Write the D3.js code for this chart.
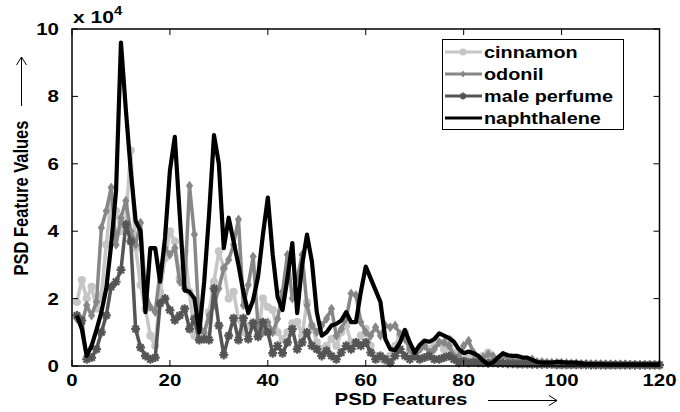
<!DOCTYPE html>
<html>
<head>
<meta charset="utf-8">
<script src="https://cdn.jsdelivr.net/npm/d3@7"></script>
<style>
  body { margin: 0; background: #fff; }
  text { font-family: Arial, "Liberation Sans", sans-serif; font-weight: bold; }
</style>
</head>
<body>
<script>
var W = 680, H = 412;
var margin = { top: 29, right: 20, bottom: 46, left: 72 };

// data, values in units of 1e4, sampled at features 1..120
var cinnamon = [1.9,2.55,2.0,2.35,1.7,2.1,3.6,4.9,4.6,4.0,4.3,6.4,3.5,2.4,1.7,0.9,0.6,2.2,3.2,4.0,
  3.7,2.6,3.4,2.2,0.9,0.8,0.9,1.6,2.5,3.4,2.9,2.0,2.2,1.4,1.0,1.2,1.3,0.9,2.0,1.75,
  1.66,1.0,0.8,1.0,1.27,1.3,0.9,1.9,1.2,0.7,0.5,0.6,0.8,0.6,1.0,1.2,0.7,0.6,0.9,1.1,
  0.6,0.3,0.2,0.15,0.3,0.6,0.9,1.0,0.5,0.3,0.5,0.7,0.5,0.6,0.7,0.5,0.8,0.4,0.2,0.1,
  0.3,0.2,0.15,0.3,0.4,0.2,0.1,0.15,0.1,0.1,0.1,0.12,0.1,0.1,0.08,0.1,0.08,0.08,0.07,0.07,
  0.06,0.06,0.06,0.05,0.05,0.05,0.05,0.05,0.04,0.04,0.04,0.04,0.04,0.04,0.04,0.03,0.03,0.03,0.03,0.03];
var odonil = [1.4,1.25,1.8,1.5,1.9,4.1,4.6,5.3,3.6,4.4,4.9,4.0,3.6,4.25,2.2,1.75,1.6,2.8,3.5,3.3,
  3.5,2.5,2.3,5.35,3.9,1.2,1.0,1.5,1.8,2.3,2.9,3.15,3.6,4.35,1.8,2.4,3.25,1.2,1.0,1.3,
  1.0,1.4,2.2,3.3,2.0,2.6,3.3,1.8,1.2,1.0,1.2,1.4,1.7,0.9,1.1,1.4,2.15,2.1,1.3,1.0,
  0.9,1.15,0.9,1.2,1.15,1.2,0.95,0.8,0.5,0.3,0.5,0.6,0.4,0.5,0.7,0.7,0.6,0.3,0.3,0.6,
  0.75,0.4,0.2,0.25,0.35,0.3,0.2,0.3,0.25,0.2,0.2,0.15,0.15,0.2,0.12,0.12,0.1,0.1,0.1,0.1,
  0.09,0.08,0.08,0.07,0.07,0.06,0.06,0.06,0.05,0.05,0.05,0.05,0.05,0.04,0.04,0.04,0.04,0.04,0.04,0.04];
var malePerfume = [1.5,1.35,0.2,0.25,0.5,1.0,1.5,2.35,2.5,2.85,4.2,3.7,1.1,0.55,0.3,0.2,0.25,1.86,2.0,1.66,
  1.36,1.5,1.7,1.1,1.4,0.77,0.8,0.77,2.3,1.2,0.33,0.9,1.42,0.77,1.42,0.8,1.27,0.87,1.3,1.0,
  0.38,0.6,0.38,0.7,1.1,0.5,0.7,1.0,0.6,0.5,0.3,0.45,0.3,0.2,0.4,0.6,0.5,0.7,0.6,0.7,
  0.4,0.2,0.3,0.2,0.1,0.3,0.5,0.3,0.2,0.3,0.2,0.25,0.3,0.2,0.2,0.25,0.3,0.2,0.1,0.15,
  0.1,0.12,0.1,0.1,0.08,0.1,0.08,0.08,0.07,0.07,0.06,0.06,0.06,0.05,0.05,0.05,0.05,0.05,0.04,0.04,
  0.04,0.04,0.04,0.04,0.04,0.03,0.03,0.03,0.03,0.03,0.03,0.03,0.03,0.03,0.03,0.03,0.03,0.03,0.03,0.03];
var naphthalene = [1.5,1.1,0.3,0.6,1.07,1.6,2.3,3.6,5.2,9.6,7.6,5.8,4.3,4.0,1.6,3.5,3.5,2.5,3.8,5.8,
  6.8,4.5,2.25,2.2,2.0,1.0,2.5,4.5,6.85,6.0,3.5,4.4,3.7,3.0,2.2,1.57,1.96,2.65,3.9,5.0,
  3.3,2.05,1.66,2.6,3.65,1.57,3.0,3.9,3.1,1.6,0.9,1.0,1.2,1.25,1.35,1.6,1.3,1.3,2.2,2.95,
  2.6,2.25,1.9,0.8,0.5,0.47,0.7,1.07,0.7,0.4,0.62,0.75,0.72,0.8,0.97,0.9,0.83,0.72,0.5,0.38,
  0.43,0.38,0.3,0.15,0.05,0.1,0.25,0.38,0.32,0.3,0.3,0.25,0.25,0.18,0.12,0.1,0.1,0.1,0.12,0.12,
  0.1,0.1,0.1,0.08,0.06,0.06,0.06,0.06,0.05,0.05,0.05,0.05,0.05,0.05,0.05,0.05,0.05,0.05,0.05,0.05];

var seriesNames = ["cinnamon", "odonil", "male perfume", "naphthalene"];
var seriesData = [cinnamon, odonil, malePerfume, naphthalene];
var seriesColors = ["#c6c6c6", "#878787", "#555555", "#000000"];
var seriesMarkers = ["circle", "diamond", "star", "none"];

var xTicks = [0, 20, 40, 60, 80, 100, 120];
var yTicks = [0, 2, 4, 6, 8, 10];

var svg = d3.select("body").append("svg")
  .attr("width", W)
  .attr("height", H);

var x = d3.scaleLinear().domain([0, 120]).range([margin.left, W - margin.right - 0.5]);
var y = d3.scaleLinear().domain([0, 10]).range([H - margin.bottom, margin.top]);

// the picture looks stretched sideways, so text gets a wider x scale
var SX = 1.24;
function wideText(sel, px, py, size, anchor, str) {
  return sel.append("text")
    .attr("transform", "translate(" + px + "," + py + ") scale(" + SX + ",1)")
    .attr("text-anchor", anchor || "start")
    .attr("font-size", size)
    .text(str);
}

var line = d3.line()
  .x(function(d, i) { return x(i + 1); })
  .y(function(d) { return y(d); });

var plot = svg.append("g");

seriesData.forEach(function(vals, k) {
  var col = seriesColors[k];
  plot.append("path")
    .datum(vals)
    .attr("fill", "none")
    .attr("stroke", col)
    .attr("stroke-width", k == 3 ? 4.2 : 3.5)
    .attr("stroke-linejoin", "round")
    .attr("d", line);

  var m = seriesMarkers[k];
  if (m == "none") return;
  var g = plot.append("g");
  var pts = g.selectAll("path.mk").data(vals).enter().append("path")
    .attr("class", "mk")
    .attr("transform", function(d, i) { return "translate(" + x(i + 1) + "," + y(d) + ")"; });
  if (m == "circle") {
    pts.attr("d", d3.symbol().type(d3.symbolCircle).size(52)()).attr("fill", col);
  } else if (m == "diamond") {
    pts.attr("d", "M0,-5L3.6,0L0,5L-3.6,0Z").attr("fill", col);
  } else {
    pts.attr("d", "M0,-4.5V4.5M-4.5,0H4.5M-3.2,-3.2L3.2,3.2M-3.2,3.2L3.2,-3.2")
      .attr("stroke", col).attr("stroke-width", 2.2).attr("fill", "none");
  }
});

// axes box, ticks inward like matlab
var x0 = x(0), x1 = x(120), y0 = y(0), y1 = y(10);
svg.append("rect")
  .attr("x", x0).attr("y", y1)
  .attr("width", x1 - x0).attr("height", y0 - y1)
  .attr("fill", "none").attr("stroke", "#000").attr("stroke-width", 1.5);

var tk = svg.append("g").attr("stroke", "#000").attr("stroke-width", 1);
xTicks.forEach(function(t) {
  tk.append("line").attr("x1", x(t)).attr("x2", x(t)).attr("y1", y0).attr("y2", y0 - 6);
  tk.append("line").attr("x1", x(t)).attr("x2", x(t)).attr("y1", y1).attr("y2", y1 + 6);
});
yTicks.forEach(function(t) {
  tk.append("line").attr("x1", x0).attr("x2", x0 + 6).attr("y1", y(t)).attr("y2", y(t));
  tk.append("line").attr("x1", x1).attr("x2", x1 - 6).attr("y1", y(t)).attr("y2", y(t));
});

var xl = svg.append("g");
xTicks.forEach(function(t) {
  wideText(xl, x(t), y0 + 20, 16.5, "middle", t);
});
var yl = svg.append("g");
yTicks.forEach(function(t) {
  wideText(yl, x0 - 13, y(t) + 6, 16.5, "end", t);
});

// exponent
var ex = svg.append("text")
  .attr("transform", "translate(" + (x0 + 1) + ",23) scale(" + SX + ",1)")
  .attr("font-size", 17);
ex.append("tspan").text("x 10");
ex.append("tspan").attr("dy", -8).attr("font-size", 12).text("4");

// axis labels with arrows
wideText(svg, 401, 405, 16.5, "middle", "PSD Features");

svg.append("text")
  .attr("transform", "translate(28,198) rotate(-90) scale(1,1.18)")
  .attr("text-anchor", "middle")
  .attr("font-size", 16.5)
  .text("PSD Feature Values");

var ar = svg.append("g").attr("stroke", "#000").attr("stroke-width", 1).attr("fill", "none");
ar.append("line").attr("x1", 488).attr("x2", 557).attr("y1", 400.5).attr("y2", 400.5);
ar.append("path").attr("d", "M549,395.5L557,400.5L549,405.5");
ar.append("line").attr("x1", 21.5).attr("x2", 21.5).attr("y1", 106).attr("y2", 57);
ar.append("path").attr("d", "M16.5,65L21.5,57L26.5,65");

// legend
var lg = svg.append("g");
lg.append("rect")
  .attr("x", 442.5).attr("y", 39.5).attr("width", 181).attr("height", 90)
  .attr("fill", "#fff").attr("stroke", "#000").attr("stroke-width", 1);

seriesNames.forEach(function(name, k) {
  var cy = 52 + k * 22;
  var col = seriesColors[k];
  lg.append("line")
    .attr("x1", 445).attr("x2", 482).attr("y1", cy).attr("y2", cy)
    .attr("stroke", col).attr("stroke-width", 3);
  var m = seriesMarkers[k];
  if (m == "circle") {
    lg.append("circle").attr("cx", 463).attr("cy", cy).attr("r", 3.5).attr("fill", col);
  } else if (m == "diamond") {
    lg.append("path").attr("transform", "translate(463," + cy + ")")
      .attr("d", "M0,-3.5L2.5,0L0,3.5L-2.5,0Z").attr("fill", col);
  } else if (m == "star") {
    lg.append("path").attr("transform", "translate(463," + cy + ")")
      .attr("d", "M0,-3.5V3.5M-3.5,0H3.5M-2.4,-2.4L2.4,2.4M-2.4,2.4L2.4,-2.4")
      .attr("stroke", col).attr("stroke-width", 1.8);
  }
  wideText(lg, 484, cy + 5.5, 16, "start", name);
});
</script>
</body>
</html>
